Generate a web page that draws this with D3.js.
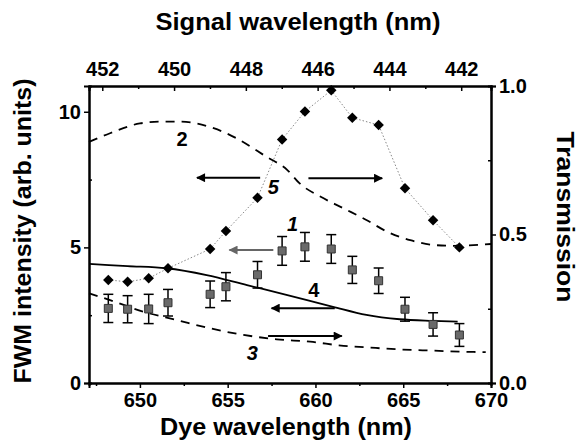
<!DOCTYPE html>
<html>
<head>
<meta charset="utf-8">
<script src="https://cdn.jsdelivr.net/npm/d3@7"></script>
<style>
  body { margin: 0; background: #fff; }
  text { font-family: "Liberation Sans", Arial, sans-serif; font-weight: bold; }
</style>
</head>
<body>
<svg id="chart"></svg>
<script>
// dye wavelengths of the measured / calculated points (nm)
const dyeWl = [648.2, 649.3, 650.5, 651.6, 654.0, 654.9, 656.7, 658.1, 659.4, 660.9, 662.1, 663.6, 665.1, 666.7, 668.2];
// curve 5: calculated FWM intensity (diamonds)
const fwmCalc = [3.80, 3.73, 3.86, 4.23, 4.94, 5.60, 6.83, 8.98, 10.01, 10.79, 9.78, 9.51, 7.18, 6.00, 5.00];
// curve 1: measured FWM intensity (squares) with error bars
const fwmMeas = [2.75, 2.72, 2.73, 2.96, 3.27, 3.55, 3.99, 4.87, 5.02, 4.94, 4.17, 3.77, 2.72, 2.16, 1.77];
const fwmErr = [0.52, 0.50, 0.54, 0.49, 0.49, 0.52, 0.49, 0.53, 0.53, 0.53, 0.50, 0.47, 0.44, 0.43, 0.42];

// curve 2: transmission (dashed, right axis)
const wl2 = [647.1, 648.3, 650.0, 651.2, 652.3, 654.2, 655.5, 657.2, 658.4, 659.1, 660.3, 661.6, 662.9, 664.1, 665.4, 666.7, 667.7, 670.0];
const trans2 = [0.812, 0.841, 0.874, 0.880, 0.880, 0.858, 0.824, 0.762, 0.717, 0.672, 0.627, 0.588, 0.549, 0.509, 0.481, 0.465, 0.462, 0.468];
// curve 3: transmission (dashed, right axis)
const wl3 = [647.1, 648.3, 650.2, 652.1, 654.0, 655.9, 657.8, 659.7, 661.6, 662.9, 664.8, 666.7, 668.6, 669.7];
const trans3 = [0.302, 0.279, 0.240, 0.212, 0.184, 0.162, 0.147, 0.139, 0.125, 0.120, 0.113, 0.109, 0.105, 0.104];
// curve 4: FWM intensity (solid, left axis)
const wl4 = [647.1, 649.3, 651.5, 653.8, 656.1, 658.4, 661.0, 662.9, 664.8, 666.7, 668.1];
const fwm4 = [4.39, 4.31, 4.23, 3.98, 3.61, 3.24, 2.81, 2.51, 2.35, 2.29, 2.26];

// tick labels
const bottomTicks = [650, 655, 660, 665, 670];
const topTicks = [452, 450, 448, 446, 444, 442];
const leftTicks = [0, 5, 10];
const rightTicks = [0, 0.5, 1];

// curve numbers and arrows (x in dye nm, y in left-axis units)
const curveLabels = [
    { text: "2", x: 652.4, y: 8.98, italic: false },
    { text: "5", x: 657.6, y: 7.21, italic: true },
    { text: "1", x: 658.7, y: 5.86, italic: true },
    { text: "4", x: 659.9, y: 3.43, italic: false },
    { text: "3", x: 656.4, y: 1.09, italic: true }
];
const arrows = [
    { x1: 656.85, x2: 653.25, y: 7.57, color: "#000" },
    { x1: 659.6, x2: 663.8, y: 7.55, color: "#000" },
    { x1: 657.6, x2: 655.1, y: 4.9, color: "#666" },
    { x1: 661.1, x2: 657.5, y: 2.76, color: "#000" },
    { x1: 657.3, x2: 661.5, y: 1.73, color: "#000" }
];

const W = 582, H = 442;
const margin = { left: 89, top: 86, right: 91, bottom: 59 };
const width = W - margin.left - margin.right;
const height = H - margin.top - margin.bottom;

const svg = d3.select("#chart").attr("width", W).attr("height", H);

svg.append("defs").append("marker")
    .attr("id", "head")
    .attr("viewBox", "0 0 10 10")
    .attr("refX", 9).attr("refY", 5)
    .attr("markerWidth", 6).attr("markerHeight", 4.5)
    .attr("markerUnits", "strokeWidth")
    .attr("orient", "auto")
    .append("path").attr("d", "M0,0L10,5L0,10z").attr("fill", "context-stroke");

const g = svg.append("g").attr("transform", `translate(${margin.left},${margin.top})`);

const x = d3.scaleLinear().domain([647.1, 670]).range([0, width]);
const xTop = d3.scaleLinear().domain([452.37, 441.17]).range([0, width]);
const yL = d3.scaleLinear().domain([0, 10.95]).range([height, 0]);
const yR = d3.scaleLinear().domain([0, 1]).range([height, 0]);

// axes
const styleAxis = (sel) => {
    sel.select(".domain").attr("stroke", "#000").attr("stroke-width", 2);
    sel.selectAll(".tick line").attr("stroke", "#000").attr("stroke-width", 1.5);
    sel.selectAll(".tick text").attr("font-size", 20).attr("fill", "#000");
};

// minor ticks first
g.append("g").attr("transform", `translate(0,${height})`)
    .call(d3.axisBottom(x).tickValues([647.5, 652.5, 657.5, 662.5, 667.5]).tickSize(3).tickFormat(""))
    .call(styleAxis);
g.append("g")
    .call(d3.axisTop(xTop).tickValues([451, 449, 447, 445, 443]).tickSize(-3).tickFormat(""))
    .call(styleAxis);
g.append("g")
    .call(d3.axisLeft(yL).tickValues([2.5, 7.5]).tickSize(-3).tickFormat(""))
    .call(styleAxis);
g.append("g").attr("transform", `translate(${width},0)`)
    .call(d3.axisRight(yR).tickValues([0.25, 0.75]).tickSize(-3).tickFormat(""))
    .call(styleAxis);

g.append("g").attr("transform", `translate(0,${height})`)
    .call(d3.axisBottom(x).tickValues(bottomTicks).tickSize(5).tickPadding(5).tickFormat(d3.format("d")))
    .call(styleAxis);
g.append("g")
    .call(d3.axisTop(xTop).tickValues(topTicks).tickSize(-5).tickPadding(10).tickFormat(d3.format("d")))
    .call(styleAxis);
g.append("g")
    .call(d3.axisLeft(yL).tickValues(leftTicks).tickSize(5).tickPadding(3).tickFormat(d3.format("d")))
    .call(styleAxis);
g.append("g").attr("transform", `translate(${width},0)`)
    .call(d3.axisRight(yR).tickValues(rightTicks).tickSize(5).tickPadding(3).tickFormat(d3.format(".1f")))
    .call(styleAxis);

// curves
const lineL = d3.line().x(d => x(d[0])).y(d => yL(d[1])).curve(d3.curveMonotoneX);
const lineR = d3.line().x(d => x(d[0])).y(d => yR(d[1])).curve(d3.curveMonotoneX);

g.append("path").datum(d3.zip(wl2, trans2)).attr("d", lineR)
    .attr("fill", "none").attr("stroke", "#000").attr("stroke-width", 1.8).attr("stroke-dasharray", "9,7");
g.append("path").datum(d3.zip(wl3, trans3)).attr("d", lineR)
    .attr("fill", "none").attr("stroke", "#000").attr("stroke-width", 1.8).attr("stroke-dasharray", "9,7");
g.append("path").datum(d3.zip(wl4, fwm4)).attr("d", lineL)
    .attr("fill", "none").attr("stroke", "#000").attr("stroke-width", 1.8);

// curve 5: dotted connecting line and diamonds
g.append("path").datum(d3.zip(dyeWl, fwmCalc))
    .attr("d", d3.line().x(d => x(d[0])).y(d => yL(d[1])))
    .attr("fill", "none").attr("stroke", "#888").attr("stroke-width", 1).attr("stroke-dasharray", "1.5,2");
g.selectAll(".diamond").data(d3.zip(dyeWl, fwmCalc)).join("path")
    .attr("class", "diamond")
    .attr("transform", d => `translate(${x(d[0])},${yL(d[1])})`)
    .attr("d", d3.symbol(d3.symbolDiamond2, 70))
    .attr("fill", "#000");

// curve 1: squares with error bars
const meas = d3.zip(dyeWl, fwmMeas, fwmErr);
const eb = g.selectAll(".err").data(meas).join("g").attr("class", "err")
    .attr("stroke", "#000").attr("stroke-width", 1.5);
eb.append("line")
    .attr("x1", d => x(d[0])).attr("x2", d => x(d[0]))
    .attr("y1", d => yL(d[1] - d[2])).attr("y2", d => yL(d[1] + d[2]));
eb.append("line")
    .attr("x1", d => x(d[0]) - 5).attr("x2", d => x(d[0]) + 5)
    .attr("y1", d => yL(d[1] + d[2])).attr("y2", d => yL(d[1] + d[2]));
eb.append("line")
    .attr("x1", d => x(d[0]) - 5).attr("x2", d => x(d[0]) + 5)
    .attr("y1", d => yL(d[1] - d[2])).attr("y2", d => yL(d[1] - d[2]));
g.selectAll(".sq").data(meas).join("path")
    .attr("class", "sq")
    .attr("transform", d => `translate(${x(d[0])},${yL(d[1])})`)
    .attr("d", d3.symbol(d3.symbolSquare, 64))
    .attr("fill", "#6a6a6a").attr("stroke", "#333").attr("stroke-width", 1);

// arrows
g.selectAll(".arrow").data(arrows).join("line")
    .attr("class", "arrow")
    .attr("x1", d => x(d.x1)).attr("x2", d => x(d.x2))
    .attr("y1", d => yL(d.y)).attr("y2", d => yL(d.y))
    .attr("stroke", d => d.color).attr("stroke-width", 2)
    .attr("marker-end", "url(#head)");

// curve numbers
g.selectAll(".num").data(curveLabels).join("text")
    .attr("class", "num")
    .attr("x", d => x(d.x)).attr("y", d => yL(d.y))
    .attr("text-anchor", "middle").attr("dominant-baseline", "central")
    .attr("font-size", 20).attr("font-style", d => d.italic ? "italic" : "normal")
    .text(d => d.text);

// axis titles
svg.append("text").attr("x", 298).attr("y", 30)
    .attr("text-anchor", "middle").attr("font-size", 23)
    .attr("textLength", 285).attr("lengthAdjust", "spacingAndGlyphs")
    .text("Signal wavelength (nm)");
svg.append("text").attr("x", 286).attr("y", 435)
    .attr("text-anchor", "middle").attr("font-size", 23)
    .attr("textLength", 252).attr("lengthAdjust", "spacingAndGlyphs")
    .text("Dye wavelength (nm)");
svg.append("text").attr("transform", `translate(31,231) rotate(-90)`)
    .attr("text-anchor", "middle").attr("font-size", 23)
    .attr("textLength", 305).attr("lengthAdjust", "spacingAndGlyphs")
    .text("FWM intensity (arb. units)");
svg.append("text").attr("transform", `translate(557,217) rotate(90)`)
    .attr("text-anchor", "middle").attr("font-size", 23)
    .attr("textLength", 171).attr("lengthAdjust", "spacingAndGlyphs")
    .text("Transmission");
</script>
</body>
</html>
